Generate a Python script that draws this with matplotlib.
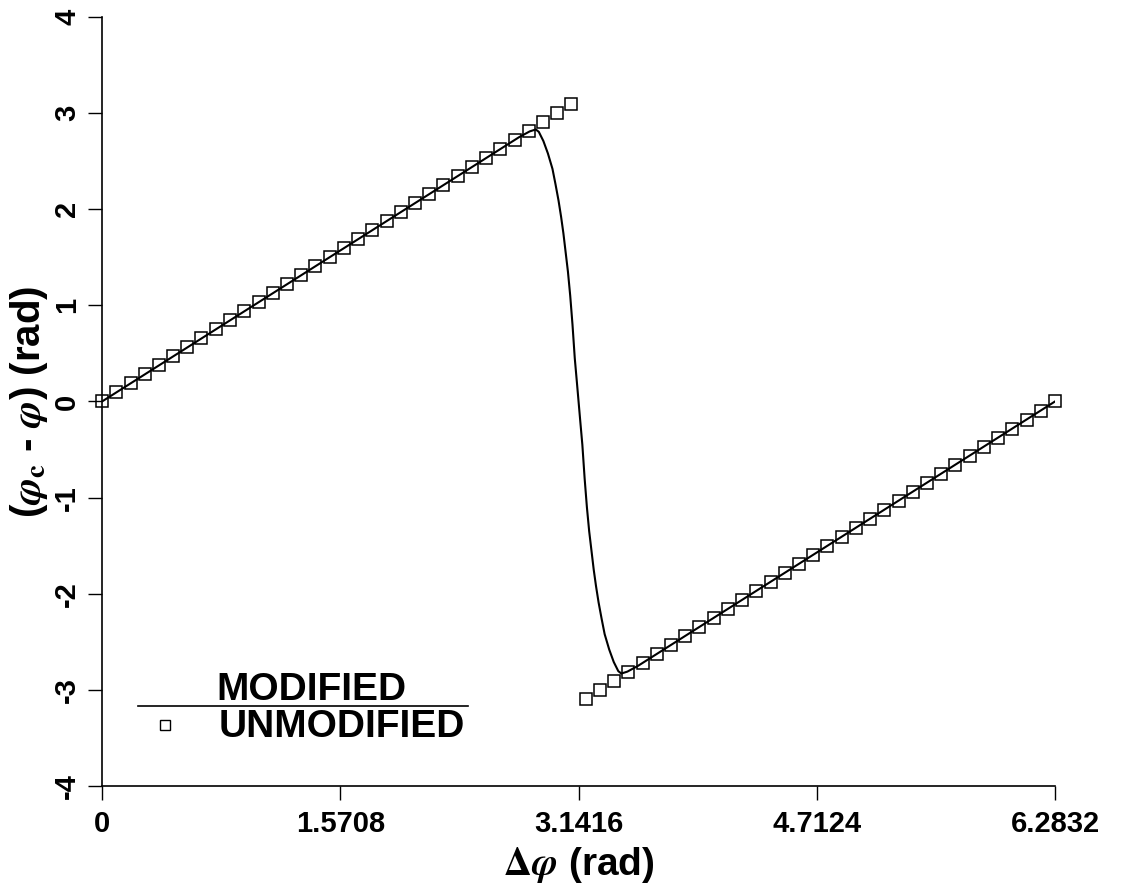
import matplotlib
matplotlib.use("Agg")
import matplotlib.pyplot as plt

plt.rcParams['font.family'] = ['Liberation Sans', 'DejaVu Sans']
plt.rcParams['font.weight'] = 'bold'
plt.rcParams['mathtext.fontset'] = 'stix'
plt.rcParams['axes.unicode_minus'] = False

# unmodified: wrapped phase difference, sampled points
unmod_x = [0.000, 0.094, 0.188, 0.281, 0.375, 0.469, 0.563, 0.656, 0.750, 0.844,
           0.938, 1.032, 1.125, 1.219, 1.313, 1.407, 1.500, 1.594, 1.688, 1.782,
           1.876, 1.969, 2.063, 2.157, 2.251, 2.344, 2.438, 2.532, 2.626, 2.720,
           2.813, 2.907, 3.001, 3.095, 3.188, 3.282, 3.376, 3.470, 3.564, 3.657,
           3.751, 3.845, 3.939, 4.032, 4.126, 4.220, 4.314, 4.408, 4.501, 4.595,
           4.689, 4.783, 4.877, 4.970, 5.064, 5.158, 5.252, 5.345, 5.439, 5.533,
           5.627, 5.721, 5.814, 5.908, 6.002, 6.096, 6.189, 6.283]
unmod_y = [0.000, 0.094, 0.188, 0.281, 0.375, 0.469, 0.563, 0.656, 0.750, 0.844,
           0.938, 1.032, 1.125, 1.219, 1.313, 1.407, 1.500, 1.594, 1.688, 1.782,
           1.876, 1.969, 2.063, 2.157, 2.251, 2.344, 2.438, 2.532, 2.626, 2.720,
           2.813, 2.907, 3.001, 3.095, -3.095, -3.001, -2.907, -2.813, -2.720, -2.626,
           -2.532, -2.438, -2.344, -2.251, -2.157, -2.063, -1.969, -1.876, -1.782, -1.688,
           -1.594, -1.500, -1.407, -1.313, -1.219, -1.125, -1.032, -0.938, -0.844, -0.750,
           -0.656, -0.563, -0.469, -0.375, -0.281, -0.188, -0.094, 0.000]

# modified: smooth transition around pi
mod_x = [0.000, 2.750, 2.820, 2.860, 2.880, 2.910, 2.940, 2.970, 2.990, 3.010,
         3.027, 3.042, 3.057, 3.072, 3.087, 3.102, 3.117, 3.131, 3.142, 3.153,
         3.167, 3.182, 3.197, 3.212, 3.227, 3.242, 3.257, 3.274, 3.294, 3.314,
         3.344, 3.374, 3.404, 3.424, 3.464, 3.534, 6.283]
mod_y = [0.000, 2.750, 2.810, 2.830, 2.805, 2.710, 2.580, 2.420, 2.260, 2.090,
         1.920, 1.750, 1.550, 1.350, 1.100, 0.800, 0.450, 0.200, 0.000, -0.200,
         -0.450, -0.800, -1.100, -1.350, -1.550, -1.750, -1.920, -2.090, -2.260, -2.420,
         -2.580, -2.710, -2.805, -2.830, -2.810, -2.750, 0.000]

xticks = [0, 1.5708, 3.1416, 4.7124, 6.2832]
xtick_labels = ['0', '1.5708', '3.1416', '4.7124', '6.2832']
yticks = [-4, -3, -2, -1, 0, 1, 2, 3, 4]

fig = plt.figure(figsize=(11.24, 8.88), dpi=100)
ax = fig.add_axes([102 / 1124, 1 - 786 / 888, 953 / 1124, 769 / 888])

ax.plot(mod_x, mod_y, color='black', lw=1.5)
ax.plot(unmod_x, unmod_y, ls='none', marker='s', ms=9, mfc='none',
        mec='black', mew=1.1, clip_on=False)

ax.set_xlim(0, 6.2832)
ax.set_ylim(-4, 4)
ax.spines['top'].set_visible(False)
ax.spines['right'].set_visible(False)
ax.spines['left'].set_linewidth(1.2)
ax.spines['bottom'].set_linewidth(1.2)

ax.set_xticks(xticks)
ax.set_xticklabels(xtick_labels)
ax.set_yticks(yticks)
ax.tick_params(direction='out', length=10, width=1.0, labelsize=21)
ax.tick_params(axis='x', pad=7)
ax.tick_params(axis='y', pad=5)
for lab in ax.get_yticklabels():
    lab.set_rotation(90)
    lab.set_va('center')
    lab.set_fontweight('bold')
for lab in ax.get_xticklabels():
    lab.set_fontweight('bold')

ax.set_xlabel(r'$\Delta\varphi$ (rad)', fontsize=28, fontweight='bold')
ax.set_ylabel(r'($\varphi_\mathbf{c}$ - $\varphi$) (rad)', fontsize=29, fontweight='bold')
ax.xaxis.set_label_coords(0.5, -(845 - 786) / 769)
ax.yaxis.set_label_coords(-(102 - 50) / 953, 0.5)

# hand-made legend
ax.plot([0.038, 0.384], [0.104, 0.104], color='black', lw=1.2,
        transform=ax.transAxes, clip_on=False)
ax.text(0.220, 0.112, 'MODIFIED', transform=ax.transAxes, ha='center',
        va='baseline', fontsize=28, fontweight='bold')
ax.plot([0.066], [0.079], ls='none', marker='s', ms=7, mfc='none', mec='black',
        mew=1.0, transform=ax.transAxes, clip_on=False)
ax.text(0.122, 0.064, 'UNMODIFIED', transform=ax.transAxes, ha='left',
        va='baseline', fontsize=28, fontweight='bold')

fig.savefig('out.png', dpi=100)
